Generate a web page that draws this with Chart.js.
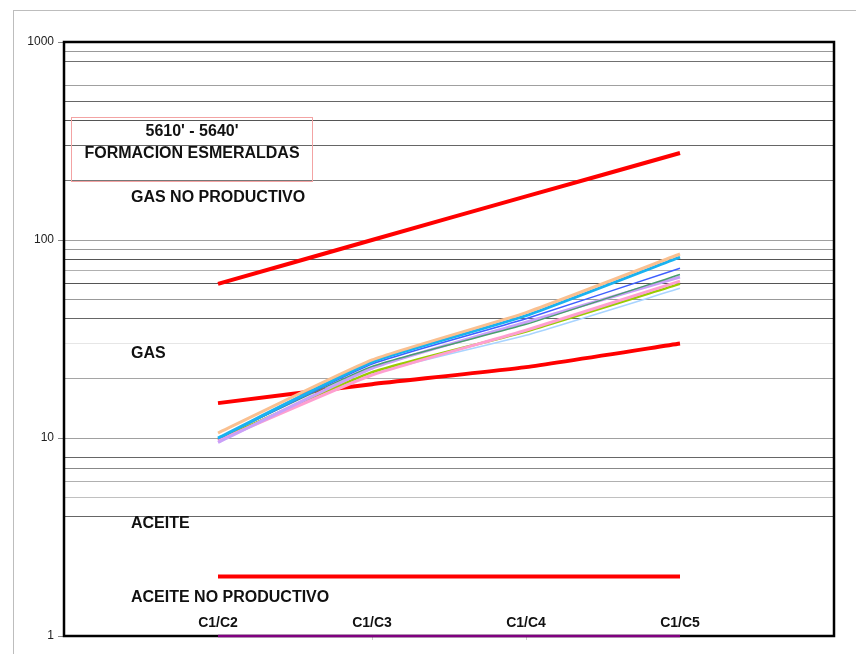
<!DOCTYPE html>
<html>
<head>
<meta charset="utf-8">
<script src="https://cdn.jsdelivr.net/npm/chart.js@4.4.1/dist/chart.umd.min.js"></script>
<style>
html, body { margin: 0; padding: 0; background: #fff; }
#wrap { position: relative; width: 856px; height: 654px; overflow: hidden; }
#sheet { position: absolute; left: 13px; top: 10px; right: -2px; bottom: -2px; border-left: 1px solid #bdbdbd; border-top: 1px solid #bdbdbd; }
canvas { position: absolute; left: 0; top: 0; }
</style>
</head>
<body>
<div id="wrap"><div id="sheet"></div><canvas id="chart" width="856" height="654"></canvas></div>
<script>
const categories = ['C1/C2', 'C1/C3', 'C1/C4', 'C1/C5'];
const yTickLabels = [1, 10, 100, 1000];

// limit lines
const gasNoProductivo = [60, 100, 166, 275];
const gasLimite = [15, 18.7, 22.8, 30];
const aceiteLimite = [2, 2, 2, 2];

// sample ratios
const muestraPeach = [10.6, 24.8, 43, 85];
const muestraCyan = [10.0, 24.2, 41.5, 82];
const muestraBlue = [9.9, 23.6, 40, 72];
const muestraGreen = [10.0, 23.0, 37.5, 67];
const muestraLavender = [9.5, 22.5, 38.5, 65];
const muestraPink = [9.7, 20.8, 35, 62];
const muestraLime = [9.8, 21.5, 34.5, 60];
const muestraSky = [9.6, 21, 33, 57];
const muestraBase = [1, 1, 1, 1];

const zoneLabels = ['GAS NO PRODUCTIVO', 'GAS', 'ACEITE', 'ACEITE NO PRODUCTIVO'];
const zoneValues = [163, 26.6, 3.68, 1.56];
const boxLines = ["5610' - 5640'", 'FORMACION ESMERALDAS'];

const FONT = "'Liberation Sans', Arial, sans-serif";

// gridline shades (style only); missing = hidden
const gridShade = {
  900: '#999', 800: '#707070', 600: '#a0a0a0', 500: '#666', 400: '#555', 300: '#666', 200: '#777',
  100: '#a0a0a0', 90: '#999', 80: '#555', 70: '#b0b0b0', 60: '#555', 50: '#999', 40: '#666', 30: '#e6e6e6', 20: '#a5a5a5',
  10: '#a0a0a0', 8: '#666', 7: '#888', 6: '#b0b0b0', 5: '#c0c0c0', 4: '#666'
};

const pad = arr => [null, ...arr, null];

function line(data, color, width) {
  return {
    data: pad(data),
    borderColor: color,
    backgroundColor: color,
    borderWidth: width,
    pointRadius: 0,
    tension: 0.15,
    fill: false
  };
}

const frame = {
  id: 'frame',
  beforeDatasetsDraw(chart) {
    const a = chart.chartArea, c = chart.ctx;
    c.save();
    c.strokeStyle = '#000';
    c.lineWidth = 2.5;
    c.strokeRect(a.left, a.top, a.right - a.left, a.bottom - a.top);
    c.restore();
  },
  afterDraw(chart) {
    const a = chart.chartArea, c = chart.ctx, y = chart.scales.y;
    c.save();
    c.fillStyle = '#111';
    c.font = 'bold 16px ' + FONT;
    c.textBaseline = 'middle';
    c.textAlign = 'left';
    zoneLabels.forEach((t, i) => c.fillText(t, a.left + 67, y.getPixelForValue(zoneValues[i])));
    // title box
    c.strokeStyle = '#f3a3a3';
    c.lineWidth = 1;
    c.strokeRect(a.left + 7.5, a.top + 75.5, 241, 64);
    c.textAlign = 'center';
    c.fillText(boxLines[0], a.left + 128, a.top + 90);
    c.fillText(boxLines[1], a.left + 128, a.top + 112);
    c.restore();
  }
};

const ctx = document.getElementById('chart').getContext('2d');
const chart = new Chart(ctx, {
  type: 'line',
  data: {
    labels: ['', ...categories, ''],
    datasets: [
      line(muestraPeach, '#fac090', 3),
      line(muestraCyan, '#19b2f0', 3),
      line(muestraBlue, '#3f5fff', 1.5),
      line(muestraGreen, '#4a9e6e', 1.5),
      line(muestraLavender, '#c9a0f8', 3),
      line(muestraPink, '#ff9fd0', 3),
      line(muestraLime, '#99cc00', 2.5),
      line(muestraSky, '#a8d4ff', 1.5),
      Object.assign(line(muestraBase, '#800080', 2.5), { clip: false }),
      line(gasNoProductivo, '#ff0000', 4),
      line(gasLimite, '#ff0000', 4),
      line(aceiteLimite, '#ff0000', 4)
    ]
  },
  options: {
    responsive: false,
    animation: false,
    layout: { padding: { top: 42, right: 22, bottom: 18, left: 0 } },
    plugins: { legend: { display: false }, tooltip: { enabled: false } },
    scales: {
      x: {
        type: 'category',
        offset: false,
        border: { display: false },
        grid: {
          drawOnChartArea: false,
          drawTicks: true,
          tickLength: 4,
          tickColor: c => (c.index === 2 || c.index === 3) ? '#ccc' : 'rgba(0,0,0,0)'
        },
        ticks: {
          autoSkip: false,
          maxRotation: 0,
          mirror: true,
          padding: 4,
          color: '#111',
          font: { family: FONT, size: 14, weight: 'bold' }
        },
        afterFit(scale) { scale.height = 0; }
      },
      y: {
        type: 'logarithmic',
        min: 1,
        max: 1000,
        border: { display: false },
        grid: {
          lineWidth: 1,
          tickLength: 6,
          color: c => gridShade[Math.round(c.tick.value)] || 'rgba(0,0,0,0)',
          tickColor: c => yTickLabels.includes(Math.round(c.tick.value)) ? '#888' : 'rgba(0,0,0,0)'
        },
        ticks: {
          autoSkip: false,
          padding: 4,
          color: '#222',
          font: { family: FONT, size: 12 },
          callback: v => yTickLabels.includes(Math.round(v)) ? String(Math.round(v)) : ''
        },
        afterFit(scale) { scale.width = 64; }
      }
    }
  },
  plugins: [frame]
});
</script>
</body>
</html>
